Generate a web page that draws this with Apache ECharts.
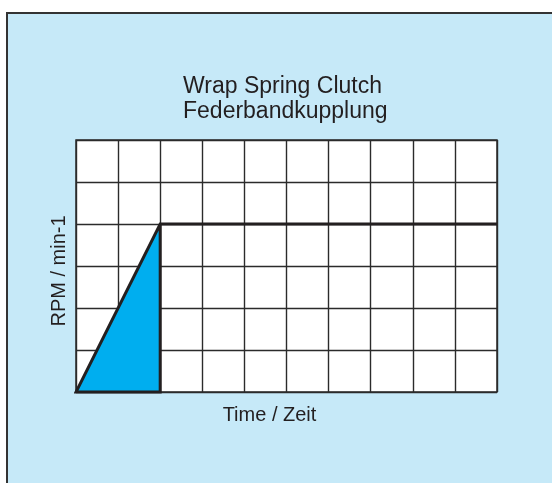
<!DOCTYPE html>
<html>
<head>
<meta charset="utf-8">
<script src="https://cdn.jsdelivr.net/npm/echarts@6/dist/echarts.min.js"></script>
<style>
  html, body { margin: 0; padding: 0; background: #ffffff; }
  #wrap { position: relative; width: 552px; height: 483px; overflow: hidden; background: #ffffff; }
  #panel { position: absolute; left: 6px; top: 11.5px; width: 600px; height: 600px;
           background: #c6e9f8; border-left: 2px solid #333; border-top: 2px solid #333; box-sizing: border-box; }
  #chart { position: absolute; left: 0; top: 0; width: 552px; height: 483px; }
</style>
</head>
<body>
<div id="wrap">
  <div id="panel"></div>
  <div id="chart"></div>
</div>
<script>
// Chart text
const titleLines = ['Wrap Spring Clutch', 'Federbandkupplung'];
const xAxisName = 'Time / Zeit';
const yAxisName = 'RPM / min-1';

// Axis ranges (grid of 10 x 6 cells, no tick labels)
const xRange = [0, 10];
const yRange = [0, 6];

// Speed profile: acceleration ramp then constant speed
const rampTime = [0, 2];
const rampRpm = [0, 4];
// Outline path: constant speed back to ramp end, down the ramp, along the base, up the engagement edge
const outlineTime = [10, 2, 0, 2, 2];
const outlineRpm = [4, 4, 0, 0, 4];

const ink = '#231f20';
const font = '"Liberation Sans", Arial, Helvetica, sans-serif';

const chart = echarts.init(document.getElementById('chart'), null, { renderer: 'canvas' });
chart.setOption({
  backgroundColor: 'transparent',
  animation: false,
  title: {
    text: titleLines.join('\n'),
    left: 183,
    top: 74,
    padding: 0,
    textStyle: { fontFamily: font, fontSize: 23, fontWeight: 'normal', color: ink, lineHeight: 25 }
  },
  grid: {
    left: 76, right: 55, top: 140, bottom: 91,
    show: true, backgroundColor: '#ffffff', borderColor: '#2b2b2b', borderWidth: 1.5
  },
  xAxis: {
    type: 'value', min: xRange[0], max: xRange[1], interval: 1,
    name: xAxisName, nameLocation: 'middle', nameGap: 13,
    nameTextStyle: { fontFamily: font, fontSize: 20, color: ink, padding: [0, 34, 0, 0] },
    axisLine: { show: false }, axisTick: { show: false }, axisLabel: { show: false },
    splitLine: { show: true, lineStyle: { color: '#2b2b2b', width: 1.4 } }
  },
  yAxis: {
    type: 'value', min: yRange[0], max: yRange[1], interval: 1,
    name: yAxisName, nameLocation: 'middle', nameGap: 7, nameRotate: 90,
    nameTextStyle: { fontFamily: font, fontSize: 20, color: ink, padding: [0, 10, 0, 0] },
    axisLine: { show: false }, axisTick: { show: false }, axisLabel: { show: false },
    splitLine: { show: true, lineStyle: { color: '#2b2b2b', width: 1.4 } }
  },
  series: [
    {
      type: 'line',
      data: rampTime.map((t, i) => [t, rampRpm[i]]),
      symbol: 'none',
      lineStyle: { width: 0, opacity: 0 },
      areaStyle: { color: '#00aeef', opacity: 1, origin: 'start' },
      z: 3
    },
    {
      type: 'line',
      data: outlineTime.map((t, i) => [t, outlineRpm[i]]),
      symbol: 'none',
      lineStyle: { color: ink, width: 3, join: 'miter' },
      clip: false,
      z: 4
    }
  ]
});
</script>
</body>
</html>
